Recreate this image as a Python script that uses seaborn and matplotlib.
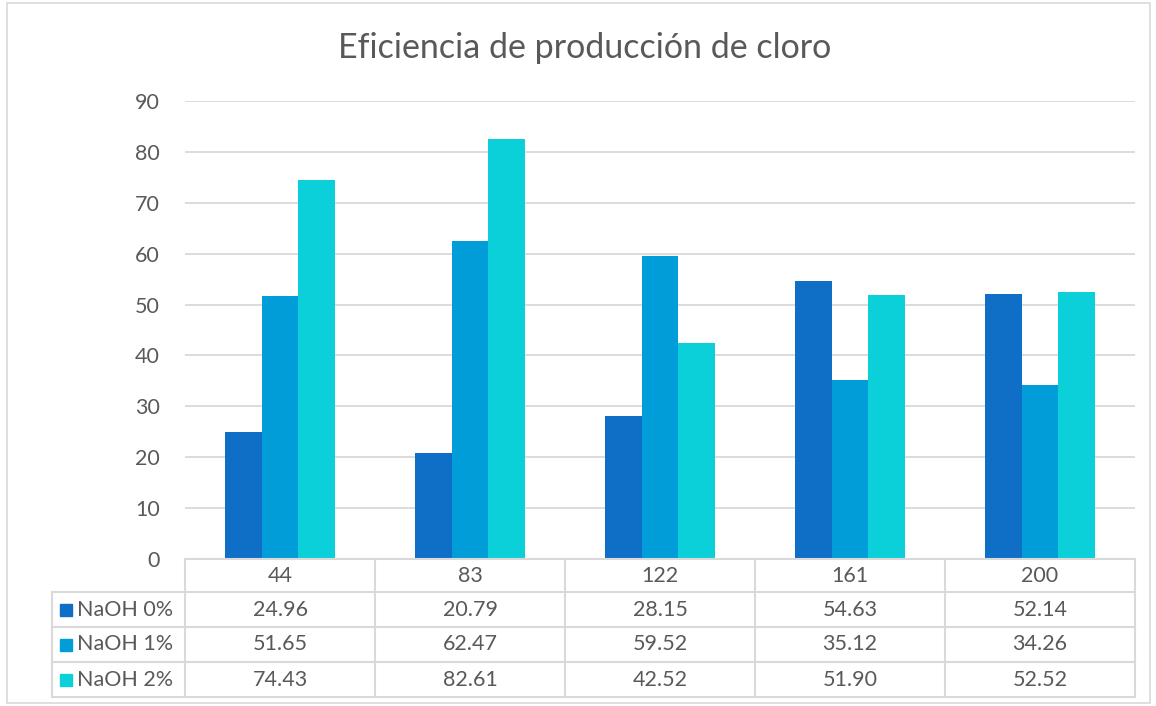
import matplotlib
matplotlib.use("Agg")
import matplotlib.pyplot as plt
import seaborn as sns
import pandas as pd
from matplotlib.patches import Rectangle
from matplotlib.lines import Line2D

categories = ["44", "83", "122", "161", "200"]
series_names = ["NaOH 0%", "NaOH 1%", "NaOH 2%"]
naoh0 = [24.96, 20.79, 28.15, 54.63, 52.14]
naoh1 = [51.65, 62.47, 59.52, 35.12, 34.26]
naoh2 = [74.43, 82.61, 42.52, 51.90, 52.52]
colors = ["#0F6FC6", "#009DD9", "#0BD0D9"]
yticks = [0, 10, 20, 30, 40, 50, 60, 70, 80, 90]
title = "Eficiencia de producción de cloro"

sns.set_style("white")
plt.rcParams['font.family'] = ['Lato', 'DejaVu Sans']
txt = "#595959"
grid = "#D9D9D9"

rows = []
for name, vals in zip(series_names, [naoh0, naoh1, naoh2]):
    for c, v in zip(categories, vals):
        rows.append({"cat": c, "serie": name, "val": v})
df = pd.DataFrame(rows)

W, H = 1156, 706
fig = plt.figure(figsize=(W / 100, H / 100), dpi=100)
L, R, T, B = 185, 1135, 101, 559
ax = fig.add_axes([L / W, 1 - B / H, (R - L) / W, (B - T) / H])
sns.barplot(data=df, x="cat", y="val", hue="serie", order=categories,
            hue_order=series_names, palette=colors, width=0.58, ax=ax,
            saturation=1, legend=False, linewidth=0)
ax.set_ylim(0, 90)
ax.set_xlim(-0.5, len(categories) - 0.5)
ax.set_yticks(yticks)
ax.set_yticklabels([str(t) for t in yticks], fontsize=15.5, color=txt)
ax.tick_params(axis="y", length=0, pad=18)
ax.set_xticks([])
ax.set_xlabel("")
ax.set_ylabel("")
for s in ax.spines.values():
    s.set_visible(False)
ax.yaxis.grid(True, color=grid, linewidth=1.3)
ax.set_axisbelow(True)

fig.text(585 / W, 1 - 48 / H, title, ha="center", va="center", fontsize=24.5, color=txt)

# data table
def fy(y):
    return 1 - y / H
def fx(x):
    return x / W

lc = "#D9D9D9"
lw = 1.5
col_edges = [L + i * (R - L) / len(categories) for i in range(len(categories) + 1)]
row_edges = [559, 592, 627, 662, 697]
leg_left = 52
fig.add_artist(Line2D([fx(L), fx(R)], [fy(559), fy(559)], color=lc, lw=lw))
for y in row_edges[1:]:
    fig.add_artist(Line2D([fx(leg_left), fx(R)], [fy(y), fy(y)], color=lc, lw=lw))
for x in col_edges:
    fig.add_artist(Line2D([fx(x), fx(x)], [fy(559), fy(697)], color=lc, lw=lw))
fig.add_artist(Line2D([fx(leg_left), fx(leg_left)], [fy(592), fy(697)], color=lc, lw=lw))

fs = 15.5
cw = (R - L) / len(categories)
for i, c in enumerate(categories):
    fig.text(fx(L + cw * (i + 0.5)), fy(576), c, ha="center", va="center", fontsize=fs, color=txt)
for r, (name, vals, col) in enumerate(zip(series_names, [naoh0, naoh1, naoh2], colors)):
    yc = (row_edges[r + 1] + row_edges[r + 2]) / 2
    fig.add_artist(Rectangle((fx(60), fy(yc + 6)), 12 / W, 12 / H, color=col))
    fig.text(fx(77), fy(yc), name, ha="left", va="center", fontsize=fs, color=txt)
    for i, v in enumerate(vals):
        fig.text(fx(L + cw * (i + 0.5)), fy(yc), f"{v:.2f}", ha="center", va="center", fontsize=fs, color=txt)

fig.add_artist(Rectangle((fx(7), fy(703)), (1150 - 7) / W, (703 - 3) / H, fill=False, edgecolor=lc, lw=1.2))

fig.savefig("out.png", dpi=100, facecolor="white")
